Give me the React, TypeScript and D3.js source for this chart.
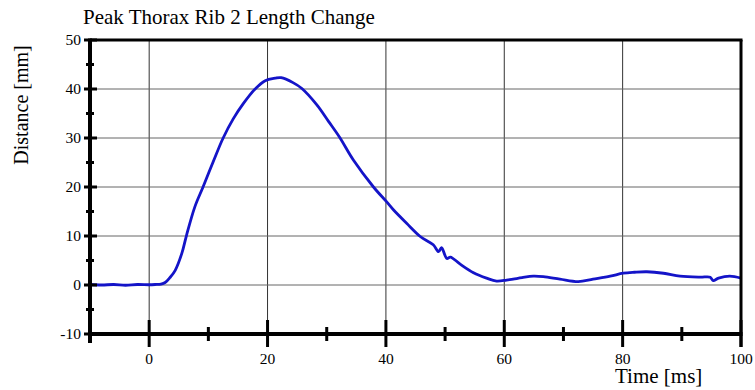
import React from "react";
import * as d3 from "d3";

const title = "Peak Thorax Rib 2 Length Change";
const xLabel = "Time [ms]";
const yLabel = "Distance [mm]";

const xTicks = [0, 20, 40, 60, 80, 100];
const xMinorTicks = [-10, 10, 30, 50, 70, 90];
const yTicks = [-10, 0, 10, 20, 30, 40, 50];
const yMinorTicks = [-5, 5, 15, 25, 35, 45];
const xGrid = [0, 20, 40, 60, 80];
const yGrid = [0, 10, 20, 30, 40];

const times = [
  -10, -8, -6, -4, -2, 0, 1, 2, 2.7, 3.5, 4.4, 5.5, 6.3, 7.7, 9.1, 10.8, 12.5,
  14.2, 15.9, 17.9, 19.6, 21.3, 22.3, 24.3, 25.8, 28.3, 30.3, 32.2, 34.5, 37.9,
  40.1, 41.3, 43.5, 45.8, 48.0, 48.9, 49.4, 50.3, 50.9, 52.5, 54.8, 57.0, 58.7,
  60.4, 61.5, 63, 64.9, 66.6, 69.4, 72.5, 75.0, 77.9, 80.1, 82, 84.1, 86.9,
  89.7, 93.1, 94.8, 95.3, 96.2, 98.1, 100,
];
const distances = [
  0.1, 0, 0.1, -0.05, 0.1, 0.05, 0.1, 0.2, 0.5, 1.5, 3, 6.4, 10.1, 15.9, 20,
  25.1, 30, 33.9, 37, 40, 41.7, 42.2, 42.3, 41.3, 40.1, 36.8, 33.4, 30.1, 25.5,
  20, 17, 15.3, 12.6, 9.9, 8.2, 6.8, 7.6, 5.4, 5.7, 4.3, 2.5, 1.4, 0.8, 1.0,
  1.2, 1.5, 1.8, 1.7, 1.2, 0.7, 1.2, 1.8, 2.4, 2.6, 2.7, 2.4, 1.8, 1.6, 1.6,
  0.9, 1.4, 1.8, 1.4,
];

export default function App() {
  const W = 755;
  const H = 390;
  const x = d3.scaleLinear().domain([-10, 100]).range([90, 741]);
  const y = d3.scaleLinear().domain([-10, 50]).range([334, 40]);
  const data = times.map((t, i) => [t, distances[i]] as [number, number]);
  const line = d3
    .line<[number, number]>()
    .x((d) => x(d[0]))
    .y((d) => y(d[1]))
    .curve(d3.curveCatmullRom.alpha(0.5));
  const font = "'Liberation Serif', 'Times New Roman', serif";
  const x0 = x(-10);
  const x1 = x(100);
  const yTop = y(50);
  const yBot = y(-10);

  return (
    <svg
      width={W}
      height={H}
      style={{ position: "absolute", left: 0, top: 0, background: "#fff" }}
      fontFamily={font}
    >
      <rect x={0} y={0} width={W} height={H} fill="#fff" />
      {/* grid */}
      {xGrid.map((v) => (
        <line key={"gx" + v} x1={x(v)} x2={x(v)} y1={yTop} y2={yBot} stroke="#333" strokeWidth={1} />
      ))}
      {yGrid.map((v) => (
        <line key={"gy" + v} x1={x0} x2={x1} y1={y(v)} y2={y(v)} stroke="#666" strokeWidth={1} />
      ))}
      {/* curve */}
      <path d={line(data) || ""} fill="none" stroke="#1414c8" strokeWidth={2.8} strokeLinejoin="round" />
      {/* frame */}
      <line x1={x0} x2={x1 + 1.5} y1={yTop} y2={yTop} stroke="#000" strokeWidth={3} />
      <line x1={x1} x2={x1} y1={yTop} y2={yBot + 13} stroke="#000" strokeWidth={3} />
      <line x1={x0} x2={x0} y1={yTop - 1.5} y2={yBot + 9} stroke="#000" strokeWidth={4} />
      <line x1={x0 - 2} x2={x1 + 1.5} y1={yBot} y2={yBot} stroke="#000" strokeWidth={4} />
      {/* y ticks */}
      {yTicks.map((v) => (
        <g key={"yt" + v}>
          <line x1={x0 - 6} x2={x0 + 7} y1={y(v)} y2={y(v)} stroke="#000" strokeWidth={3} />
          <text x={x0 - 9} y={y(v)} dy="0.35em" textAnchor="end" fontSize={15.5} fill="#000">
            {v}
          </text>
        </g>
      ))}
      {yMinorTicks.map((v) => (
        <line key={"ym" + v} x1={x0 - 4} x2={x0 + 4} y1={y(v)} y2={y(v)} stroke="#000" strokeWidth={3} />
      ))}
      {/* x ticks */}
      {xTicks.map((v) => (
        <g key={"xt" + v}>
          <line x1={x(v)} x2={x(v)} y1={yBot - 14} y2={yBot + 13} stroke="#000" strokeWidth={3} />
          <text x={x(v)} y={364} textAnchor="middle" fontSize={15.5} fill="#000">
            {v}
          </text>
        </g>
      ))}
      {xMinorTicks
        .filter((v) => v !== -10)
        .map((v) => (
          <line key={"xm" + v} x1={x(v)} x2={x(v)} y1={yBot - 7} y2={yBot + 7} stroke="#000" strokeWidth={3} />
        ))}
      {/* labels */}
      <text x={83} y={24} fontSize={21} fill="#000">
        {title}
      </text>
      <text x={615} y={383} fontSize={21} fill="#000">
        {xLabel}
      </text>
      <text
        transform={`translate(28,105) rotate(-90)`}
        textAnchor="middle"
        fontSize={20}
        fill="#000"
      >
        {yLabel}
      </text>
    </svg>
  );
}
